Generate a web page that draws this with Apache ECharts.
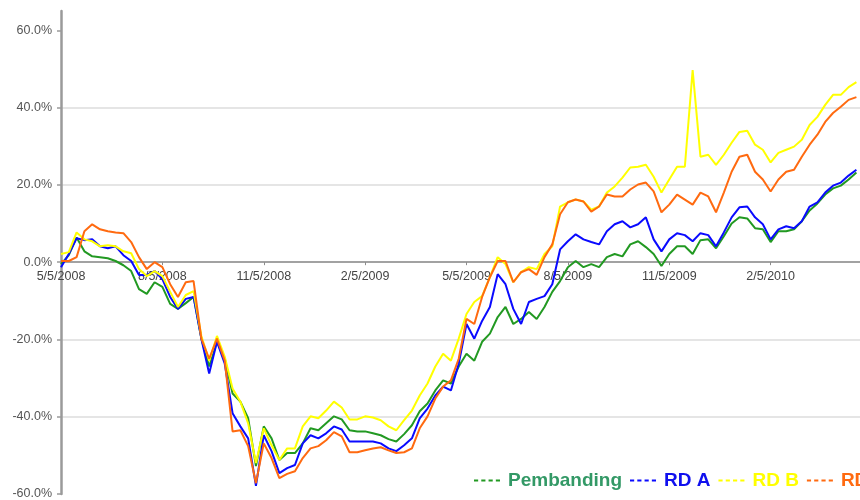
<!DOCTYPE html>
<html><head><meta charset="utf-8">
<script src="https://cdn.jsdelivr.net/npm/echarts@6/dist/echarts.min.js"></script>
<style>html,body{margin:0;padding:0;background:#fff}#c{width:860px;height:500px}</style>
</head><body><div id="c"></div>
<script>
// Quarterly tick labels on the x axis
const tickLabels = ['5/5/2008','8/5/2008','11/5/2008','2/5/2009','5/5/2009','8/5/2009','11/5/2009','2/5/2010','5/5/2010'];
const seriesNames = ['Pembanding','RD A','RD B','RD C'];
const yTicks = [-60,-40,-20,0,20,40,60];

// Weekly readings (%)
const pembanding = [-0.5,1.8,6.4,2.8,1.5,1.3,1.0,0.3,-0.8,-2.3,
 -7.0,-8.2,-5.2,-6.4,-10.8,-12.1,-10.6,-9.0,-19.8,-27.0,
 -20.6,-25.0,-34.0,-36.1,-40.4,-52.8,-42.5,-45.6,-51.2,-49.4,
 -49.4,-46.9,-43.0,-43.5,-41.7,-39.9,-40.7,-43.5,-43.8,-43.8,
 -44.3,-44.8,-45.8,-46.4,-44.5,-42.2,-38.6,-36.6,-33.2,-30.6,
 -31.4,-27.0,-23.7,-25.5,-20.6,-18.5,-14.2,-11.6,-16.0,-14.7,
 -12.9,-14.7,-11.6,-7.7,-4.9,-1.3,0.3,-1.3,-0.5,-1.3,
 1.3,2.1,1.5,4.6,5.4,3.9,2.1,-1.0,2.1,4.1,
 4.1,2.1,5.7,5.9,3.6,6.7,10.0,11.6,11.3,8.8,
 8.5,5.2,8.0,8.0,8.5,10.6,13.4,15.2,17.5,19.1,
 19.8,21.4,23.2];
const rdA = [-1.3,2.1,6.2,5.7,5.9,4.1,3.6,4.1,1.8,0.3,
 -3.3,-3.3,-2.3,-4.4,-9.0,-12.1,-9.5,-9.0,-19.8,-28.8,
 -20.6,-26.3,-39.1,-42.5,-45.6,-57.9,-44.8,-48.9,-54.6,-53.3,
 -52.5,-46.9,-44.8,-45.6,-44.3,-42.5,-43.3,-46.4,-46.4,-46.4,
 -46.4,-46.9,-48.2,-48.9,-47.4,-45.6,-40.4,-37.9,-34.5,-32.2,
 -33.2,-26.3,-16.0,-19.8,-15.2,-11.6,-3.1,-5.7,-12.1,-16.0,
 -10.3,-9.5,-8.8,-5.7,3.3,5.4,7.2,5.9,5.2,4.6,
 8.0,9.8,10.6,9.0,9.8,11.6,5.9,2.8,5.9,7.5,
 7.0,5.4,7.5,7.0,4.1,7.7,11.6,14.2,14.4,11.6,
 9.8,5.9,8.5,9.3,8.8,10.6,14.4,15.5,18.0,19.8,
 20.6,22.4,23.9];
const rdB = [2.1,2.6,7.7,5.9,5.4,4.1,4.4,4.1,2.8,2.3,
 -1.8,-3.6,-2.3,-3.6,-7.7,-11.6,-8.5,-7.5,-19.1,-25.5,
 -19.1,-24.5,-32.7,-36.1,-41.7,-52.0,-43.0,-47.4,-51.2,-48.2,
 -48.2,-42.5,-39.9,-40.4,-38.4,-36.1,-37.6,-40.7,-40.7,-39.9,
 -40.2,-40.9,-42.5,-43.5,-40.9,-38.4,-34.5,-31.4,-27.0,-23.7,
 -25.5,-19.8,-13.4,-10.3,-8.8,-3.9,1.3,-0.5,-5.2,-2.6,
 -1.3,-1.8,2.1,4.1,14.4,15.5,16.2,15.7,13.6,14.4,
 18.0,19.6,21.9,24.5,24.7,25.2,22.1,18.0,21.4,24.7,
 24.7,49.7,27.3,27.8,25.2,27.8,30.9,33.7,34.0,30.4,
 29.1,25.8,28.3,29.1,29.9,31.7,35.5,37.6,40.7,43.3,
 43.3,45.3,46.6];
const rdC = [0.3,0.3,1.3,8.0,9.8,8.5,8.0,7.7,7.5,5.2,
 1.3,-1.8,0.0,-1.3,-5.7,-9.0,-5.2,-4.9,-19.8,-25.0,
 -19.8,-25.5,-43.8,-43.5,-47.6,-57.2,-46.9,-50.7,-55.9,-54.8,
 -54.1,-50.7,-48.2,-47.6,-46.1,-44.0,-45.1,-49.2,-49.2,-48.7,
 -48.2,-47.9,-48.7,-49.4,-49.2,-48.2,-43.0,-39.9,-35.3,-32.2,
 -30.6,-25.0,-14.7,-16.0,-9.0,-3.9,0.3,0.3,-5.2,-2.6,
 -1.8,-3.3,1.3,4.6,12.4,15.5,16.2,15.7,13.1,14.4,
 17.5,17.0,17.0,18.8,20.1,20.6,18.3,12.9,14.9,17.5,
 16.2,14.9,18.0,17.0,12.9,18.0,23.4,27.3,27.8,23.4,
 21.4,18.3,21.4,23.4,23.9,27.3,30.4,33.0,36.3,38.6,
 40.2,42.0,42.7];

const lineColors = ['#229922','#0a0aff','#ffff00','#ff6a10'];
const textColors = ['#339966','#1010ee','#ffff00','#ff6a10'];
const values = [pembanding, rdA, rdB, rdC];

// category dates: weekly steps inside each quarter
const categories = [];
tickLabels.forEach((lab, q) => {
  const p = lab.split('/').map(Number);
  const steps = q < tickLabels.length - 1 ? 13 : 1;
  for (let k = 0; k < steps; k++) {
    const dt = new Date(p[2], p[0] - 1, p[1] + 7 * k);
    categories.push(k === 0 ? lab : (dt.getMonth() + 1) + '/' + dt.getDate() + '/' + dt.getFullYear());
  }
});
const isTick = (i, v) => tickLabels.indexOf(v) >= 0;
const isLabel = (i, v) => tickLabels.indexOf(v) >= 0 && i < categories.length - 1;

const font = 'Arial, "Liberation Sans", sans-serif';
const dashIcon = 'path://M0,0h4v2h-4zM7,0h4v2h-4zM14,0h4v2h-4zM21,0h4v2h-4z';
const chart = echarts.init(document.getElementById('c'), null, {renderer: 'canvas'});
chart.setOption({
  animation: false,
  backgroundColor: '#ffffff',
  grid: {left: 61, right: -12, top: 11, bottom: 6, containLabel: false, outerBoundsMode: 'none'},
  legend: {
    left: 474, top: 471, width: 800, padding: 0, itemWidth: 26, itemHeight: 2.5, itemGap: 8,
    textStyle: {fontFamily: font, fontSize: 19, fontWeight: 'bold', padding: [0, 0, 0, 3]},
    data: seriesNames.map((n, i) => ({name: n, icon: dashIcon, textStyle: {color: textColors[i]}}))
  },
  xAxis: {
    type: 'category', data: categories, boundaryGap: false,
    axisLine: {onZero: false, lineStyle: {color: '#8c8c8c', width: 1.5}},
    axisTick: {show: true, interval: isTick, length: 3, lineStyle: {color: '#8c8c8c'}},
    axisLabel: {interval: isLabel, margin: 8, color: '#444', fontFamily: font, fontSize: 12.5},
    splitLine: {show: false}
  },
  yAxis: {
    type: 'value', min: -60, max: 65, interval: 20,
    axisLine: {show: true, lineStyle: {color: '#9a9a9a', width: 2.5}},
    axisTick: {show: true, length: 4, customValues: yTicks, lineStyle: {color: '#9a9a9a', width: 1.5}},
    axisLabel: {customValues: yTicks, margin: 9, color: '#555', fontFamily: font, fontSize: 12.5,
      formatter: v => (v % 20 === 0 ? v.toFixed(1) + '%' : '')},
    splitLine: {show: true, showMaxLine: false, showMinLine: false, lineStyle: {color: '#dcdcdc', width: 1.5}}
  },
  series: seriesNames.map((n, i) => ({
    name: n, type: 'line', data: values[i], symbol: 'none', showSymbol: false,
    lineStyle: {color: lineColors[i], width: 2}, itemStyle: {color: lineColors[i]}
  }))
});
// place the x axis on the zero line, using the y scale
const yZero = chart.convertToPixel({yAxisIndex: 0}, 0);
const yMin = chart.convertToPixel({yAxisIndex: 0}, -60);
chart.setOption({xAxis: {offset: yZero - yMin}});
</script>
</body></html>
